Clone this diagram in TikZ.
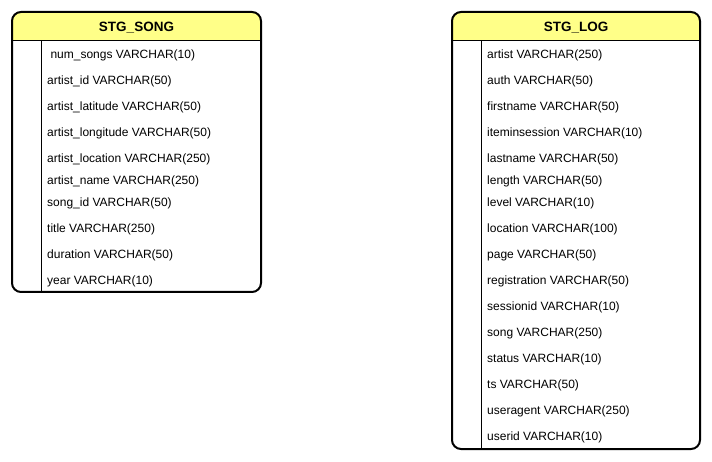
\documentclass[tikz,border=0pt]{standalone}
\usepackage{fontspec}
\setmainfont{Liberation Sans}
\usetikzlibrary{calc}

\definecolor{headyellow}{HTML}{FFFF88}

\tikzset{
  tblframe/.style={draw=black, line width=2pt, rounded corners=9pt},
  tblline/.style={draw=black, line width=1pt},
  tblhead/.style={font=\bfseries\fontsize{13.5}{16}\selectfont, inner sep=0pt},
  tblrow/.style={anchor=west, font=\fontsize{12}{14}\selectfont, inner sep=0pt, yshift=-1.5pt}
}

\begin{document}
\begin{tikzpicture}[x=1pt,y=-1pt]
  \useasboundingbox (0,0) rectangle (712,462);

  %% Table STG_SONG
  \coordinate (SONGtl) at (12,12);
  \coordinate (SONGbr) at (261,292);
  \begin{scope}
    \clip[rounded corners=9pt] (SONGtl) rectangle (SONGbr);
    \fill[headyellow] (SONGtl) rectangle (261,41);
  \end{scope}
  \draw[tblline] (12,41) -- (261,41);
  \draw[tblline] (41,41) -- (41,292);
  \draw[tblframe] (SONGtl) rectangle (SONGbr);
  \node[tblhead] (SONGhead) at (136.5,27.5) {STG\_SONG};
  \foreach \i/\y/\t in {0/54/{\ num\_songs VARCHAR(10)},
                        1/80/{artist\_id VARCHAR(50)},
                        2/106/{artist\_latitude VARCHAR(50)},
                        3/132/{artist\_longitude VARCHAR(50)},
                        4/158/{artist\_location VARCHAR(250)},
                        5/180/{artist\_name VARCHAR(250)},
                        6/202/{song\_id VARCHAR(50)},
                        7/228/{title VARCHAR(250)},
                        8/254/{duration VARCHAR(50)},
                        9/280/{year VARCHAR(10)}}
  {
    \node[tblrow] (SONG\i) at (47,\y) {\t};
  }

  %% Table STG_LOG
  \coordinate (LOGtl) at (452,12);
  \coordinate (LOGbr) at (700,449);
  \begin{scope}
    \clip[rounded corners=9pt] (LOGtl) rectangle (LOGbr);
    \fill[headyellow] (LOGtl) rectangle (700,41);
  \end{scope}
  \draw[tblline] (452,41) -- (700,41);
  \draw[tblline] (481,41) -- (481,449);
  \draw[tblframe] (LOGtl) rectangle (LOGbr);
  \node[tblhead] (LOGhead) at (576,27.5) {STG\_LOG};
  \foreach \i/\y/\t in {0/54/{artist VARCHAR(250)},
                        1/80/{auth VARCHAR(50)},
                        2/106/{firstname VARCHAR(50)},
                        3/132/{iteminsession VARCHAR(10)},
                        4/158/{lastname VARCHAR(50)},
                        5/180/{length VARCHAR(50)},
                        6/202/{level VARCHAR(10)},
                        7/228/{location VARCHAR(100)},
                        8/254/{page VARCHAR(50)},
                        9/280/{registration VARCHAR(50)},
                        10/306/{sessionid VARCHAR(10)},
                        11/332/{song VARCHAR(250)},
                        12/358/{status VARCHAR(10)},
                        13/384/{ts VARCHAR(50)},
                        14/410/{useragent VARCHAR(250)},
                        15/436/{userid VARCHAR(10)}}
  {
    \node[tblrow] (LOG\i) at (487,\y) {\t};
  }
\end{tikzpicture}
\end{document}
